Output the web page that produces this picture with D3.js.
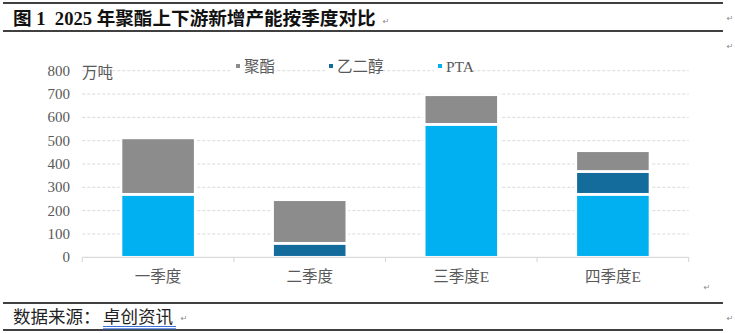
<!DOCTYPE html>
<html><head><meta charset="utf-8">
<script src="https://cdn.jsdelivr.net/npm/d3@7"></script>
<style>
html,body{margin:0;padding:0;background:#fff;}
svg{display:block;}
text{white-space:pre;}
</style>
</head><body>
<svg id="chart" width="735" height="333"></svg>
<script>
const categories = ["一季度", "二季度", "三季度E", "四季度E"];
const seriesNames = ["PTA", "乙二醇", "聚酯"];
const ptaValues = [270, 0, 570, 270];
const megValues = [0, 60, 0, 98];
const polyesterValues = [242, 187, 127, 89];
const yTicks = [0, 100, 200, 300, 400, 500, 600, 700, 800];
const legendOrder = ["聚酯", "乙二醇", "PTA"];
const colors = {"PTA": "#00b0f0", "乙二醇": "#146c9c", "聚酯": "#8c8c8c"};
const titleText = "图 1  2025 年聚酯上下游新增产能按季度对比";
const unitText = "万吨";
const sourceLabel = "数据来源：";
const sourceName = "卓创资讯";

const CJK = "'Liberation Serif','Noto Sans CJK SC',serif";
const svg = d3.select("#chart");

// frame lines
[3, 31, 303, 330].forEach(y => {
  svg.append("line").attr("x1", 3).attr("x2", 723).attr("y1", y).attr("y2", y)
    .attr("stroke", "#000").attr("stroke-width", 1.5);
});

// title
svg.append("text").attr("x", 13).attr("y", 18).attr("dominant-baseline", "central")
  .attr("font-family", CJK).attr("font-weight", "bold").attr("font-size", 18.6)
  .attr("fill", "#111").text(titleText);

// return marks
const marks = [[386, 21], [730, 18], [730, 46], [707, 287], [730, 318], [184, 318]];
marks.forEach(([x, y]) => {
  svg.append("text").attr("x", x).attr("y", y).attr("dominant-baseline", "central")
    .attr("text-anchor", "middle").attr("font-family", "DejaVu Sans").attr("font-size", 8)
    .attr("fill", "#888").text("↵");
});

// scales
const x = d3.scaleBand().domain(categories).range([82.3, 688.7]).padding(0);
const y = d3.scaleLinear().domain([0, 800]).range([257.3, 70.7]);
const barW = x.bandwidth() * 0.49;

// gridlines
svg.append("g").selectAll("line").data(yTicks.filter(d => d > 0)).join("line")
  .attr("x1", 82.3).attr("x2", 688.7)
  .attr("y1", d => y(d)).attr("y2", d => y(d))
  .attr("stroke", "#d9d9d9").attr("stroke-width", 1).attr("stroke-dasharray", "3,2");

// y labels
svg.append("g").selectAll("text").data(yTicks).join("text")
  .attr("x", 70).attr("y", d => y(d)).attr("text-anchor", "end").attr("dominant-baseline", "central")
  .attr("font-family", "'Liberation Serif',serif").attr("font-size", 15).attr("fill", "#595959")
  .text(d => d);

// unit
svg.append("text").attr("x", 82).attr("y", 72.5).attr("dominant-baseline", "central")
  .attr("font-family", CJK).attr("font-size", 15.5).attr("fill", "#595959").text(unitText);

// stacked data
const rows = categories.map((c, i) => ({cat: c, "PTA": ptaValues[i], "乙二醇": megValues[i], "聚酯": polyesterValues[i]}));
const stack = d3.stack().keys(seriesNames)(rows);

svg.append("g").selectAll("g").data(stack).join("g")
  .attr("fill", d => colors[d.key])
  .selectAll("rect").data(d => d.filter(p => p[1] - p[0] > 0)).join("rect")
  .attr("x", d => x(d.data.cat) + (x.bandwidth() - barW) / 2)
  .attr("width", barW)
  .attr("y", d => y(d[1]))
  .attr("height", d => y(d[0]) - y(d[1]))
  .attr("stroke", "#fff").attr("stroke-width", 2.7);

// x axis
const xAxis = svg.append("g");
xAxis.append("line").attr("x1", 82.3).attr("x2", 688.7).attr("y1", 257.3).attr("y2", 257.3)
  .attr("stroke", "#d9d9d9").attr("stroke-width", 1.2);
const bounds = categories.map(c => x(c)).concat([x(categories[categories.length - 1]) + x.bandwidth()]);
xAxis.selectAll("line.t").data(bounds).join("line").attr("class", "t")
  .attr("x1", d => d).attr("x2", d => d).attr("y1", 257.3).attr("y2", 262)
  .attr("stroke", "#d9d9d9").attr("stroke-width", 1.2);
xAxis.selectAll("text").data(categories).join("text")
  .attr("x", d => x(d) + x.bandwidth() / 2).attr("y", 276.5)
  .attr("text-anchor", "middle").attr("dominant-baseline", "central")
  .attr("font-family", CJK).attr("font-size", 15.5).attr("fill", "#595959").text(d => d);

// legend
const legendX = [236, 329, 438];
const lg = svg.append("g").selectAll("g").data(legendOrder).join("g")
  .attr("transform", (d, i) => `translate(${legendX[i]},66)`);
lg.append("rect").attr("x", -4).attr("y", -10).attr("height", 20)
  .attr("width", d => d === "PTA" ? 38 : (d === "聚酯" ? 42 : 58)).attr("fill", "#fff");
lg.append("rect").attr("x", 0).attr("y", -2).attr("width", 4).attr("height", 4)
  .attr("fill", d => colors[d]);
lg.append("text").attr("x", 8).attr("y", 0).attr("dominant-baseline", "central")
  .attr("font-family", CJK).attr("font-size", 15.5).attr("fill", "#595959").text(d => d);

// source
const src = svg.append("text").attr("x", 13).attr("y", 317).attr("dominant-baseline", "central")
  .attr("font-family", CJK).attr("font-size", 17.5).attr("fill", "#222");
src.append("tspan").text(sourceLabel);
src.append("tspan").attr("x", 103).text(sourceName);
[326.5, 328.8].forEach(yy => {
  svg.append("line").attr("x1", 103).attr("x2", 176).attr("y1", yy).attr("y2", yy)
    .attr("stroke", "#3a6fd8").attr("stroke-width", 1);
});
</script>
</body></html>
